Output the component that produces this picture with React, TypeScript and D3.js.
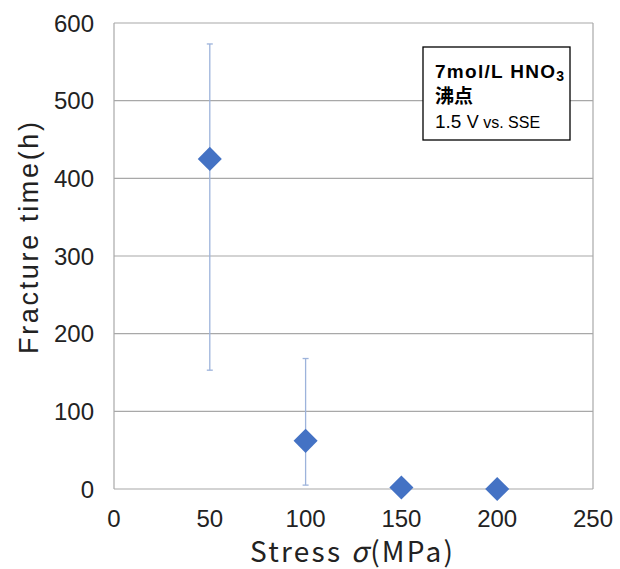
import React from "react";
import * as d3 from "d3";

const stress = [50, 100, 150, 200];
const fractureTime = [425, 62, 2, 0];
const errLow = [153, 5, null, null];
const errHigh = [573, 168, null, null];
const xTicks = [0, 50, 100, 150, 200, 250];
const yTicks = [0, 100, 200, 300, 400, 500, 600];

export default function App() {
  const W = 620, H = 569;
  const x = d3.scaleLinear().domain([0, 250]).range([114, 593]);
  const y = d3.scaleLinear().domain([0, 600]).range([489, 23]);
  const tickFont = "'Liberation Sans', Arial, sans-serif";
  const jpFont = "'Noto Sans CJK JP', 'Noto Sans', sans-serif";
  const diamond = d3.symbol().type(d3.symbolSquare).size(290)();
  return (
    <svg width={W} height={H} style={{ position: "absolute", left: 0, top: 0, background: "#fff" }}>
      <rect x={0} y={0} width={W} height={H} fill="#fff" />
      {yTicks.map((t) => (
        <line key={t} x1={x(0)} x2={x(250)} y1={y(t)} y2={y(t)} stroke="#a8a8a8" strokeWidth={1.2} />
      ))}
      <line x1={x(0)} x2={x(0)} y1={y(0)} y2={y(600)} stroke="#a8a8a8" strokeWidth={1.2} />
      <line x1={x(250)} x2={x(250)} y1={y(0)} y2={y(600)} stroke="#a8a8a8" strokeWidth={1.2} />
      {yTicks.map((t) => (
        <text key={t} x={94} y={y(t) + 8.5} textAnchor="end" fontSize={24} fill="#222" fontFamily={tickFont}>{t}</text>
      ))}
      {xTicks.map((t) => (
        <text key={t} x={x(t)} y={527} textAnchor="middle" fontSize={24} fill="#222" fontFamily={tickFont}>{t}</text>
      ))}
      <text x={250} y={562} fontSize={28} fill="#222" fontFamily={jpFont} textLength={203} lengthAdjust="spacing">Stress <tspan fontStyle="italic">σ</tspan>(MPa)</text>
      <text transform={`translate(38,238) rotate(-90)`} textAnchor="middle" fontSize={27} fill="#222" fontFamily={tickFont} textLength={232} lengthAdjust="spacing">Fracture time(h)</text>
      {stress.map((s, i) =>
        errLow[i] != null ? (
          <g key={"e" + i} stroke="#9db3db" strokeWidth={1.3}>
            <line x1={x(s)} x2={x(s)} y1={y(errLow[i] as number)} y2={y(errHigh[i] as number)} />
            <line x1={x(s) - 3} x2={x(s) + 3} y1={y(errLow[i] as number)} y2={y(errLow[i] as number)} />
            <line x1={x(s) - 3} x2={x(s) + 3} y1={y(errHigh[i] as number)} y2={y(errHigh[i] as number)} />
          </g>
        ) : null
      )}
      {stress.map((s, i) => (
        <path key={"p" + i} d={diamond as string} transform={`translate(${x(s)},${y(fractureTime[i])}) rotate(45)`} fill="#4472c4" />
      ))}
      <rect x={423} y={47} width={147} height={93} fill="#fff" stroke="#000" strokeWidth={1.3} />
      <text x={435} y={78} fontSize={19} fontWeight="bold" fill="#000" fontFamily={tickFont} textLength={129} lengthAdjust="spacing">
        7mol/L HNO<tspan fontSize={14} dy={3}>3</tspan>
      </text>
      <text x={435} y={103} fontSize={19} fontWeight="bold" fill="#000" fontFamily={jpFont}>沸点</text>
      <text x={435} y={128} fontSize={19} fill="#000" fontFamily={tickFont}>
        1.5 <tspan fontSize={18}>V</tspan><tspan fontSize={16}> vs. SSE</tspan>
      </text>
    </svg>
  );
}
